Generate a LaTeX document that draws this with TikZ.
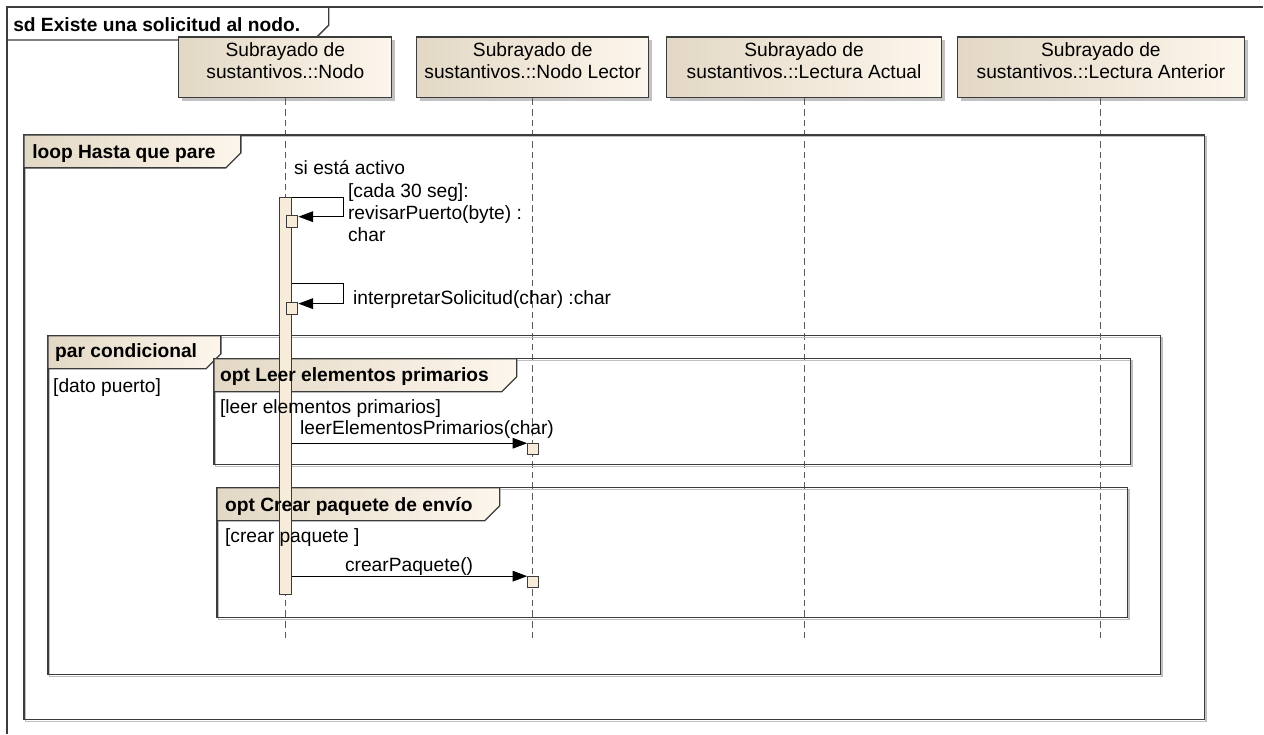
\documentclass[tikz,border=0pt]{standalone}
\usepackage{fontspec}
\setmainfont{Liberation Sans}
\usepackage{xcolor}
\definecolor{headdark}{HTML}{E3D8C5}
\definecolor{headlight}{HTML}{FDF6EC}
\definecolor{execfill}{HTML}{F7EBDA}
\definecolor{frameline}{HTML}{3C3C3C}
\definecolor{lifegray}{HTML}{5A5A5A}
\usepackage{tikz}
\usetikzlibrary{arrows.meta,fit,shadows}

\begin{document}
\begin{tikzpicture}[
  x=0.75pt, y=-0.75pt,
  font=\fontsize{14.4}{16.5}\selectfont,
  >={Triangle[length=11pt,width=8pt]},
  head/.style={draw=frameline, line width=0.8pt, left color=headdark, right color=headlight, align=center, inner sep=0pt,
    drop shadow={shadow xshift=2.5pt, shadow yshift=-2.5pt, fill=black!40, opacity=0.6},
    execute at begin node={\rule{0pt}{19pt}}},
  lifeline/.style={draw=lifegray, line width=0.8pt, dash pattern=on 5pt off 3pt},
  frame/.style={draw=frameline, line width=1pt, preaction={draw=black!25, line width=1pt, transform canvas={shift={(1.2pt,-1.2pt)}}}},
  tab/.style={draw=frameline, line width=1pt, left color=headdark, right color=headlight},
  tabtext/.style={anchor=base west, inner sep=0pt, font=\fontsize{14.4}{16.5}\selectfont\bfseries},
  txt/.style={anchor=base west, inner sep=0pt, align=left},
  actbar/.style={draw=frameline, line width=0.8pt, fill=execfill, inner sep=0pt},
  msg/.style={->, draw=black, line width=0.8pt},
]
\fill[white] (0,0) rectangle (1264,734);

% Diagram frame
\draw[draw=frameline, line width=1pt] (7,734) |- (1264,7);
\draw[draw=frameline, line width=1pt] (7,40) -- ++(307,0) -- ++(15,-15) -- ++(0,-18);
\node[tabtext] (sd) at (13,32) {sd Existe una solicitud al nodo.};

% Lifeline heads
\node[head, fit={(179,37)(392,98)}] (nodo) {Subrayado de\\sustantivos.::Nodo};
\node[head, fit={(417,37)(649,98)}] (lector) {Subrayado de\\sustantivos.::Nodo Lector};
\node[head, fit={(667,37)(942,98)}] (actual) {Subrayado de\\sustantivos.::Lectura Actual};
\node[head, fit={(958,37)(1245,98)}] (anterior) {Subrayado de\\sustantivos.::Lectura Anterior};

\foreach \h in {nodo,lector,actual,anterior}
  \draw[lifeline] (\h.south) -- ++(0,540);

% Combined fragments
\draw[frame] (24,135) rectangle (1205,720);
\draw[frame] (48,336) rectangle (1161,675);
\draw[frame] (214,359) rectangle (1131,465);
\draw[frame] (217,488) rectangle (1128,618);

\draw[tab] (24,135) -- ++(217,0) -- ++(0,18) -- ++(-15,15) -- (24,168) -- cycle;
\draw[tab] (48,336) -- ++(173,0) -- ++(0,18) -- ++(-15,15) -- (48,369) -- cycle;
\draw[tab] (214,359) -- ++(303,0) -- ++(0,18) -- ++(-15,15) -- (214,392) -- cycle;
\draw[tab] (217,488) -- ++(283,0) -- ++(0,18) -- ++(-15,15) -- (217,521) -- cycle;

% Activations
\node[actbar, fit={(280,198)(292,595)}] (bar) {};
\node[actbar, fit={(287,216)(298,228)}] (exec1) {};
\node[actbar, fit={(287,303)(298,315)}] (exec2) {};
\node[actbar, fit={(528,444)(539,455)}] (exec3) {};
\node[actbar, fit={(528,577)(539,588)}] (exec4) {};

% Messages
\draw[msg] (bar.north east) -- ++(51,0) |- ([yshift=-1pt]exec1.north east);
\draw[msg] (exec2.north -| bar.east) ++(0,-19) -- ++(51,0) |- ([yshift=-1pt]exec2.north east);
\draw[msg] (exec3.north -| bar.east) -- (exec3.north west);
\draw[msg] (exec4.north -| bar.east) -- (exec4.north west);

% Labels
\node[tabtext] (looplbl) at (32,159) {loop Hasta que pare};
\node[tabtext] (parlbl) at (55,358) {par condicional};
\node[txt] (guard1) at (53,393) {[dato puerto]};
\node[tabtext] (opt1lbl) at (220,382) {opt Leer elementos primarios};
\node[txt] (guard2) at (220,414) {[leer elementos primarios]};
\node[tabtext] (opt2lbl) at (225,512) {opt Crear paquete de envío};
\node[txt] (guard3) at (225,543) {[crear paquete ]};
\node[txt] (cond) at (294,175) {si está activo};
\node[txt] (m1) at (348,242) {[cada 30 seg]:\\revisarPuerto(byte) :\\char};
\node[txt] (m2) at (353,305) {interpretarSolicitud(char) :char};
\node[txt] (m3) at (300,435) {leerElementosPrimarios(char)};
\node[txt] (m4) at (345,572) {crearPaquete()};
\end{tikzpicture}
\end{document}
